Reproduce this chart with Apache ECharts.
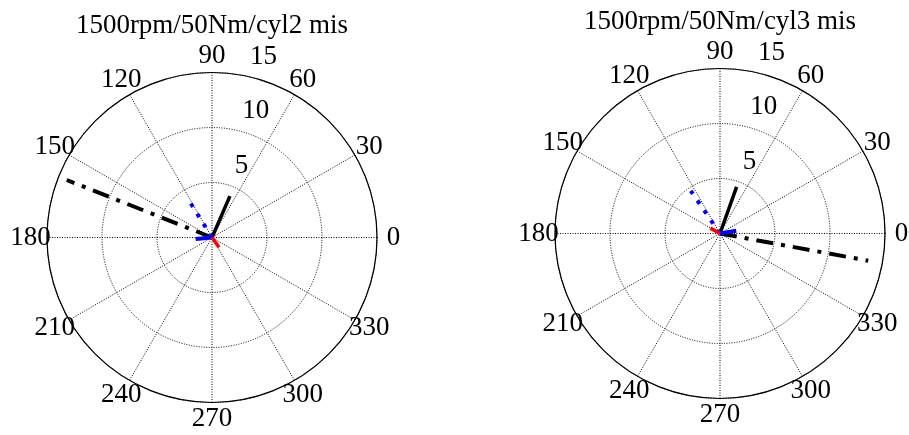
<!DOCTYPE html>
<html><head><meta charset="utf-8">
<script src="https://cdn.jsdelivr.net/npm/echarts@6/dist/echarts.min.js"></script>
<style>html,body{margin:0;padding:0;background:#fff}#c{width:909px;height:435px}</style>
</head><body><div id="c"></div>
<script>
// ---- data ----
const titles = ['1500rpm/50Nm/cyl2 mis', '1500rpm/50Nm/cyl3 mis'];
const angleTicks = [0, 30, 60, 90, 120, 150, 180, 210, 240, 270, 300, 330];
const angleTickLabels = ['0', '30', '60', '90', '120', '150', '180', '210', '240', '270', '300', '330'];
const radiusTicks = [5, 10, 15];
const radiusTickLabels = ['5', '10', '15'];
const traceNames = ['black solid', 'black dash-dot', 'blue dotted', 'blue solid', 'red solid'];
const cyl2Magnitude = [4.1, 14.2, 3.7, 1.5, 1.1];
const cyl2PhaseDeg = [66.6, 158.4, 121.9, 185.4, 305.5];
const cyl3Magnitude = [4.5, 13.7, 4.7, 1.5, 1.0];
const cyl3PhaseDeg = [70.4, 349.6, 124.4, 9.5, 150.8];

// ---- styles ----
const FONT = '"Liberation Serif","Times New Roman",serif';
const traceStyles = [
  { color: '#000000', width: 3.5, type: 'solid' },
  { color: '#000000', width: 4, type: [17, 8, 4, 8] },
  { color: '#0000ff', width: 4, type: [4, 8] },
  { color: '#0000ff', width: 4, type: 'solid' },
  { color: '#ff0000', width: 3.5, type: 'solid' }
];
const panels = [
  { center: [212, 237.5], radius: 165, titleTop: 12, mag: cyl2Magnitude, phase: cyl2PhaseDeg },
  { center: [720, 233.5], radius: 165, titleTop: 8, mag: cyl3Magnitude, phase: cyl3PhaseDeg }
];

const polar = [], angleAxis = [], radiusAxis = [], series = [], title = [];
panels.forEach((p, i) => {
  const main = polar.length;
  polar.push({ center: p.center, radius: p.radius });
  angleAxis.push({
    polarIndex: main, type: 'value', min: 0, max: 360, interval: 30, startAngle: 0, clockwise: false,
    axisLine: { show: true, lineStyle: { color: '#000', width: 1.2 } },
    axisTick: { show: false }, axisLabel: { show: false },
    splitLine: { show: true, lineStyle: { color: '#000', width: 1, type: [1, 1.5] } }
  });
  radiusAxis.push({
    polarIndex: main, type: 'value', min: 0, max: 15, interval: 5,
    axisLine: { show: false }, axisTick: { show: false }, axisLabel: { show: false },
    splitLine: { show: true, lineStyle: { color: '#000', width: 1, type: [1, 1.5] } }
  });
  // overlay for angle tick labels at 1.1 * rmax
  const ov = polar.length;
  polar.push({ center: p.center, radius: p.radius * 1.1 });
  angleAxis.push({ polarIndex: ov, type: 'value', min: 0, max: 360, startAngle: 0, clockwise: false, show: false });
  radiusAxis.push({ polarIndex: ov, type: 'value', min: 0, max: 1, show: false });

  title.push({
    text: titles[i], left: p.center[0], top: p.titleTop, textAlign: 'center', padding: 0,
    textStyle: { fontFamily: FONT, fontSize: 27, fontWeight: 'normal', color: '#000' }
  });

  traceNames.forEach((name, k) => {
    const st = traceStyles[k];
    series.push({
      type: 'line', name: name, coordinateSystem: 'polar', polarIndex: main,
      data: [[0, 0], [p.mag[k], p.phase[k]]],
      showSymbol: false, symbol: 'none', animation: false, silent: true, z: 3,
      lineStyle: { color: st.color, width: st.width, type: st.type, cap: 'butt' }
    });
  });

  series.push({
    type: 'scatter', coordinateSystem: 'polar', polarIndex: main, animation: false, silent: true, z: 5,
    symbolSize: 1, itemStyle: { color: 'rgba(0,0,0,0)', opacity: 1 }, clip: false,
    data: radiusTicks.map((r, k) => ({ value: [r, 82], name: radiusTickLabels[k] })),
    label: { show: true, position: 'inside', align: 'left', verticalAlign: 'bottom', offset: [15, -4],
      formatter: q => q.name, fontFamily: FONT, fontSize: 27, color: '#000', textBorderWidth: 0 }
  });
  series.push({
    type: 'scatter', coordinateSystem: 'polar', polarIndex: ov, animation: false, silent: true, z: 5,
    symbolSize: 1, itemStyle: { color: 'rgba(0,0,0,0)', opacity: 1 }, clip: false,
    data: angleTicks.map((a, k) => ({ value: [1, a], name: angleTickLabels[k] })),
    label: { show: true, position: 'inside', align: 'center', verticalAlign: 'middle',
      formatter: q => q.name, fontFamily: FONT, fontSize: 27, color: '#000', textBorderWidth: 0 }
  });
});

const chart = echarts.init(document.getElementById('c'), null, { renderer: 'canvas' });
chart.setOption({ backgroundColor: '#fff', animation: false, title, polar, angleAxis, radiusAxis, series });
</script></body></html>
